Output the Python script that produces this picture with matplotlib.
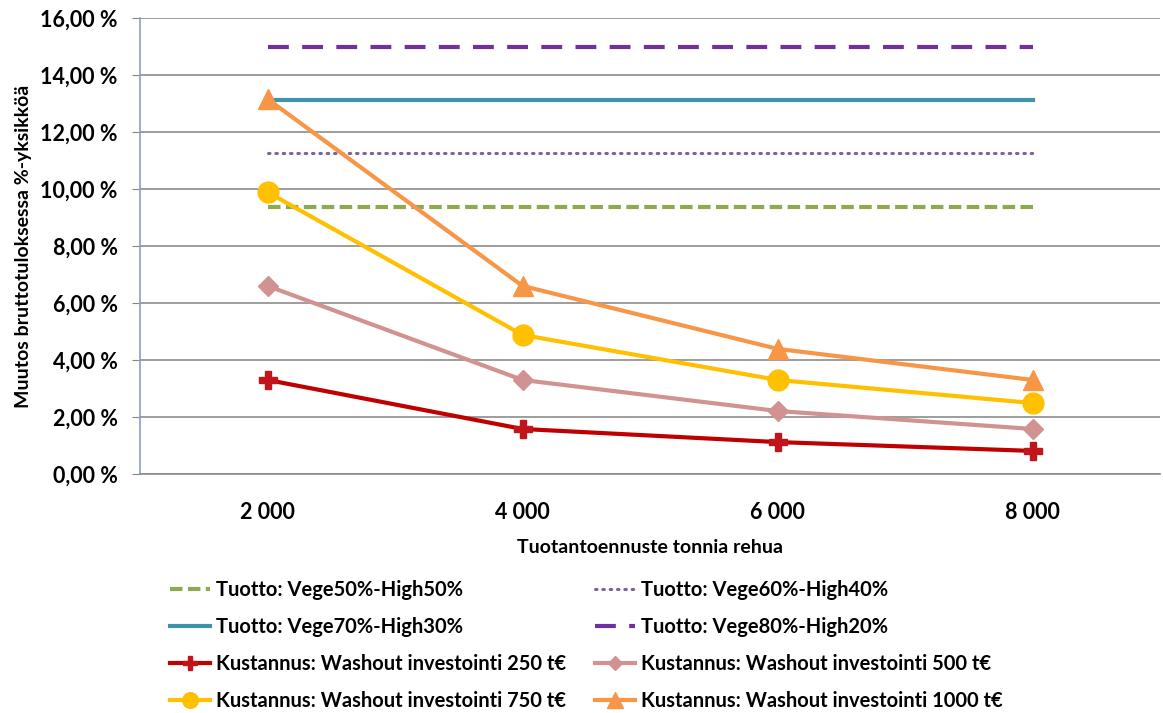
import matplotlib
matplotlib.use("Agg")
import matplotlib.pyplot as plt
from matplotlib.ticker import FuncFormatter

plt.rcParams['font.family'] = ['Lato', 'DejaVu Sans']
plt.rcParams['font.weight'] = 'bold'
plt.rcParams['axes.labelweight'] = 'bold'

categories = ["2 000", "4 000", "6 000", "8 000"]

tuotto_50 = [9.37, 9.37, 9.37, 9.37]
tuotto_60 = [11.26, 11.26, 11.26, 11.26]
tuotto_70 = [13.12, 13.12, 13.12, 13.12]
tuotto_80 = [14.98, 14.98, 14.98, 14.98]

kust_250 = [3.30, 1.58, 1.12, 0.81]
kust_500 = [6.60, 3.30, 2.21, 1.58]
kust_750 = [9.89, 4.88, 3.30, 2.49]
kust_1000 = [13.16, 6.60, 4.39, 3.30]

labels = [
    "Tuotto: Vege50%-High50%",
    "Tuotto: Vege60%-High40%",
    "Tuotto: Vege70%-High30%",
    "Tuotto: Vege80%-High20%",
    "Kustannus: Washout investointi 250 t€",
    "Kustannus: Washout investointi 500 t€",
    "Kustannus: Washout investointi 750 t€",
    "Kustannus: Washout investointi 1000 t€",
]

x = list(range(len(categories)))

fig = plt.figure(figsize=(11.63, 7.13), dpi=100)
ax = fig.add_axes([140 / 1163, 1 - 474 / 713, 1020 / 1163, 456 / 713])

h = {}
h[0], = ax.plot(x, tuotto_50, color='#8DAA4F', lw=3, ls=(0, (3, 1.3)))
h[1], = ax.plot(x, tuotto_60, color='#7F60A0', lw=2.2, ls=(0, (0.5, 1.9)), dash_capstyle='round')
h[2], = ax.plot(x, tuotto_70, color='#3F93A8', lw=3)
h[3], = ax.plot(x, tuotto_80, color='#7030A0', lw=3, ls=(0, (5, 3.2)))
h[4], = ax.plot(x, kust_250, color='#C00000', lw=3, marker='P', ms=13,
                markerfacecolor='#C0161B', markeredgecolor='#C0161B')
h[5], = ax.plot(x, kust_500, color='#D09391', lw=3, marker='D', ms=10)
h[6], = ax.plot(x, kust_750, color='#FFC000', lw=3, marker='o', ms=15)
h[7], = ax.plot(x, kust_1000, color='#F79646', lw=3, marker='^', ms=15)

ax.set_xlim(-0.5, 3.5)
ax.set_ylim(0, 16)
ax.set_yticks(range(0, 17, 2))
ax.yaxis.set_major_formatter(FuncFormatter(lambda v, p: f"{v:.2f}".replace('.', ',') + " %"))
ax.set_xticks(x)
ax.set_xticklabels(categories)
ax.tick_params(axis='x', length=0, pad=20, labelsize=15.5)
ax.tick_params(axis='y', length=6, color='#868686', labelsize=15.5, pad=10)
ax.grid(axis='y', color='#8C8C8C', lw=1.2)
ax.set_axisbelow(True)
for s in ['top', 'right']:
    ax.spines[s].set_visible(False)
ax.spines['left'].set_color('#8BA1BC')
ax.spines['bottom'].set_color('#8C8C8C')
ax.spines['left'].set_linewidth(1.2)
ax.spines['bottom'].set_linewidth(1.2)

ax.set_xlabel("Tuotantoennuste tonnia rehua", fontsize=14, labelpad=12)
ax.set_ylabel("Muutos bruttotuloksessa %-yksikköä", fontsize=14, labelpad=6)

order = [0, 2, 4, 6, 1, 3, 5, 7]
fig.legend([h[i] for i in order], [labels[i] for i in order], ncol=2,
           loc='upper left', bbox_to_anchor=(162 / 1163, 1 - 572 / 713),
           borderaxespad=0, frameon=False, fontsize=14.5, handlelength=2.0,
           handletextpad=0.3, columnspacing=1.4, labelspacing=0.85,
           markerscale=0.75)

fig.savefig("out.png", dpi=100)
